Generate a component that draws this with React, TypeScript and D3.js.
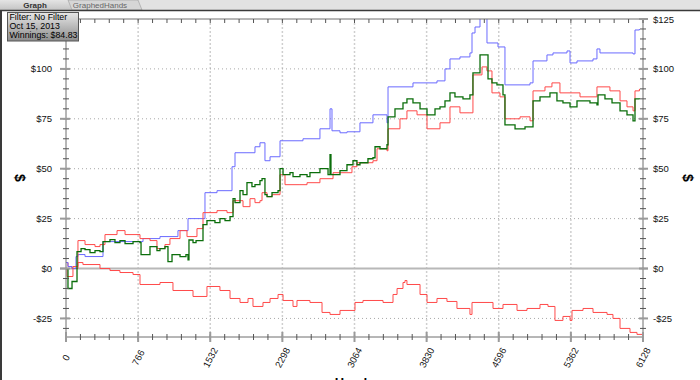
import React from "react";
import * as d3 from "d3";

// ---- data (hands, dollars) ----
const handsMax = 6128;
const xTickValues = [0, 766, 1532, 2298, 3064, 3830, 4596, 5362, 6128];
const yTickValues = [-25, 0, 25, 50, 75, 100, 125];
const yDomain: [number, number] = [-34.3, 125];

const tooltipLines = ["Filter: No Filter", "Oct 15, 2013", "Winnings: $84.83"];
const tabs = ["Graph", "GraphedHands"];

const blueSeries: [number, number][] = [
  [0, 3], [21, 1], [64, 0], [106, 6], [127, 7], [202, 6], [393, 13.5], [818, 15], [998, 16],
  [1189, 19], [1296, 25], [1476, 38], [1604, 39], [1763, 51], [1795, 58], [1922, 58],
  [2007, 61], [2060, 63], [2113, 54], [2167, 56], [2273, 64], [2517, 65], [2697, 70],
  [2804, 80], [2825, 69], [2910, 68], [2984, 68.5], [3122, 73], [3260, 77], [3409, 73],
  [3420, 91], [3685, 93], [3940, 94], [4025, 100], [4078, 105], [4184, 106], [4290, 108],
  [4312, 118], [4344, 121], [4397, 128], [4471, 113], [4588, 111], [4662, 92], [4928, 93],
  [4960, 104], [5108, 107], [5172, 108], [5321, 109], [5353, 103], [5427, 104], [5597, 105],
  [5639, 110], [5671, 108], [6022, 107.5], [6043, 119.5], [6090, 120],
];

const greenSeries: [number, number][] = [
  [0, 0], [21, -10], [64, -6.5], [117, 8.5], [160, 10], [202, 9.5], [255, 8], [308, 9],
  [361, 8.5], [393, 13.5], [467, 14.5], [520, 13], [573, 14], [627, 12.5], [712, 13.5],
  [786, 13], [797, 7], [892, 11], [966, 9], [998, 10], [1051, 11], [1083, 3.5], [1126, 7],
  [1211, 6], [1274, 7], [1296, 4.3], [1306, 14.3], [1349, 13], [1381, 14], [1455, 22],
  [1497, 24], [1582, 23], [1635, 25], [1689, 24], [1742, 26], [1774, 35], [1795, 33],
  [1848, 39], [1880, 37], [1922, 43], [1975, 41], [2007, 42], [2060, 44], [2082, 45],
  [2113, 37], [2135, 36], [2188, 38], [2252, 39], [2273, 50], [2305, 47], [2379, 48],
  [2411, 46], [2485, 47], [2560, 46], [2591, 48], [2697, 50], [2783, 47], [2804, 57],
  [2814, 47], [2910, 49], [2984, 52], [3048, 54], [3090, 52], [3122, 53], [3207, 55],
  [3260, 55.5], [3282, 61], [3335, 60], [3409, 62], [3420, 76], [3494, 80], [3579, 83],
  [3621, 85], [3685, 83], [3760, 80], [3834, 77], [3919, 80], [3972, 81], [4025, 84],
  [4078, 88], [4131, 86], [4216, 85], [4290, 87], [4322, 98], [4397, 107], [4482, 95],
  [4524, 93], [4577, 92], [4641, 87], [4662, 72], [4769, 70], [4875, 71], [4960, 84],
  [5034, 86], [5140, 88], [5214, 84], [5278, 83], [5353, 81], [5427, 84], [5565, 83],
  [5639, 82], [5650, 87], [5724, 85], [5799, 83], [5884, 79], [5958, 77], [6022, 74],
  [6043, 85], [6090, 84.83],
];

const redUpperSeries: [number, number][] = [
  [0, 0], [11, -4], [74, 1], [127, 14], [202, 12], [308, 11], [361, 12], [414, 17],
  [542, 19], [627, 17], [786, 15], [892, 14], [966, 10], [1051, 12], [1104, 15], [1211, 19],
  [1285, 16], [1391, 20], [1455, 28], [1604, 29], [1710, 28], [1774, 34], [1880, 31],
  [1954, 35], [2007, 33], [2060, 34], [2082, 38], [2135, 36], [2188, 37], [2273, 47],
  [2326, 42], [2485, 42], [2560, 43], [2697, 45], [2836, 48], [2984, 48], [3037, 51],
  [3090, 53], [3260, 54], [3303, 60], [3409, 59], [3420, 70], [3547, 75], [3621, 79],
  [3728, 77], [3834, 70], [3972, 73], [4078, 81], [4184, 78], [4290, 78], [4322, 97],
  [4418, 101], [4471, 99], [4524, 88], [4609, 86], [4662, 75], [4822, 76], [4928, 74],
  [4960, 89], [5087, 91], [5161, 93], [5246, 88], [5353, 88], [5459, 86], [5639, 91],
  [5777, 89], [5884, 84], [5958, 81], [6022, 79], [6043, 89], [6090, 90],
];

const redLowerSeries: [number, number][] = [
  [0, 3], [21, 1], [64, 0], [127, 3], [180, 2], [255, 2], [361, 0], [467, -1], [573, -2],
  [712, -3], [786, -8], [924, -8], [998, -7], [1136, -11], [1349, -14], [1497, -9],
  [1635, -11], [1742, -15], [1848, -17], [1933, -15], [1986, -19], [2092, -17], [2167, -15],
  [2252, -13], [2305, -16], [2411, -19], [2453, -16], [2591, -17], [2719, -22], [2804, -23],
  [2910, -21], [3069, -17], [3154, -16], [3367, -17], [3473, -13], [3516, -10], [3579, -7],
  [3600, -6], [3621, -8], [3760, -13], [3834, -17], [3940, -15], [4046, -16.5], [4152, -20],
  [4290, -23], [4312, -17], [4503, -17], [4535, -20], [4641, -18], [4790, -21], [4896, -20],
  [5034, -18], [5119, -19], [5193, -26], [5278, -24], [5353, -26], [5374, -21], [5491, -20],
  [5597, -22], [5746, -23], [5809, -25], [5884, -30], [5990, -32], [6064, -33], [6128, -34.3],
];

const seriesList = [
  { key: "redLower", data: redLowerSeries, color: "#ff4a4a", width: 1 },
  { key: "blue", data: blueSeries, color: "#6a6aff", width: 1 },
  { key: "redUpper", data: redUpperSeries, color: "#ff4a4a", width: 1 },
  { key: "green", data: greenSeries, color: "#0b6e0b", width: 1.3 },
];

const fmtDollar = (v: number) => (v < 0 ? `-$${Math.abs(v)}` : `$${v}`);

export default function App() {
  const W = 700, H = 380;
  const L = 66, R = 643, T = 19, B = 337;
  const x = d3.scaleLinear().domain([0, handsMax]).range([L, R]);
  const y = d3.scaleLinear().domain(yDomain).range([B, T]);
  const xMinor = d3.range(0, handsMax + 1, 766 / 5);
  const yMinor = d3.range(-30, 126, 5);
  const line = d3.line<[number, number]>().x(d => x(d[0])).y(d => y(d[1])).curve(d3.curveStepAfter);
  const font = "'Liberation Sans', Arial, sans-serif";
  // left $125 label is hidden behind the tooltip box in the reference
  const leftLabels = yTickValues.filter(v => v < 125);

  return (
    <svg width={W} height={H} style={{ position: "absolute", left: 0, top: 0, background: "#fff" }} fontFamily={font}>
      <defs>
        <clipPath id="plotClip"><rect x={L} y={T} width={R - L} height={B - T} /></clipPath>
        <linearGradient id="tipGrad" x1="0" y1="0" x2="0" y2="1">
          <stop offset="0" stopColor="#e6e6e6" />
          <stop offset="1" stopColor="#8c8c8c" />
        </linearGradient>
        <linearGradient id="barGrad" x1="0" y1="0" x2="0" y2="1">
          <stop offset="0" stopColor="#e4e4e4" />
          <stop offset="1" stopColor="#c4c4c4" />
        </linearGradient>
      </defs>
      <rect x={0} y={0} width={W} height={H} fill="#fff" />

      {/* grid */}
      {xTickValues.slice(1, -1).map(v => (
        <line key={"gx" + v} x1={x(v)} x2={x(v)} y1={T} y2={B} stroke="#cfcfcf" strokeWidth={1.5} strokeDasharray="2,2" />
      ))}
      {yTickValues.filter(v => v !== 0 && v !== 125).map(v => (
        <line key={"gy" + v} x1={L} x2={R} y1={y(v)} y2={y(v)} stroke="#a8a8a8" strokeWidth={1} strokeDasharray="1,3" />
      ))}
      <line x1={L - 6} x2={R + 5} y1={y(0)} y2={y(0)} stroke="#b8b8b8" strokeWidth={2} />

      {/* series */}
      <g clipPath="url(#plotClip)">
        {seriesList.map(s => (
          <path key={s.key} d={line(s.data) || ""} fill="none" stroke={s.color} strokeWidth={s.width} />
        ))}
      </g>

      {/* axes */}
      <g stroke="#6e6e6e" strokeWidth={1}>
        <line x1={L} x2={R} y1={B} y2={B} />
        <line x1={L} x2={R} y1={T} y2={T} />
        <line x1={L} x2={L} y1={T} y2={B} />
        <line x1={R} x2={R} y1={T} y2={B} />
      </g>
      {xMinor.map(v => (
        <g key={"xm" + v} stroke="#555" strokeWidth={1}>
          <line x1={x(v)} x2={x(v)} y1={B - 3} y2={B + 3} />
          <line x1={x(v)} x2={x(v)} y1={T} y2={T + 4} />
        </g>
      ))}
      {xTickValues.map(v => (
        <line key={"xM" + v} x1={x(v)} x2={x(v)} y1={B - 5} y2={B + 5} stroke="#9a9a9a" strokeWidth={2} />
      ))}
      {yMinor.map(v => (
        <g key={"ym" + v} stroke="#555" strokeWidth={1}>
          <line x1={L - 3} x2={L + 3} y1={y(v)} y2={y(v)} />
          <line x1={R - 3} x2={R + 3} y1={y(v)} y2={y(v)} />
        </g>
      ))}
      {yTickValues.map(v => (
        <g key={"yM" + v} stroke="#9a9a9a" strokeWidth={2}>
          <line x1={L - 6} x2={L + 4} y1={y(v)} y2={y(v)} />
          <line x1={R - 4} x2={R + 5} y1={y(v)} y2={y(v)} />
        </g>
      ))}

      {/* tick labels */}
      {leftLabels.map(v => (
        <text key={"yl" + v} x={52} y={y(v)} textAnchor="end" dominantBaseline="central" fontSize={9.5} fill="#111">{fmtDollar(v)}</text>
      ))}
      {yTickValues.map(v => (
        <text key={"yr" + v} x={653} y={y(v)} textAnchor="start" dominantBaseline="central" fontSize={9.5} fill="#111">{fmtDollar(v)}</text>
      ))}
      {xTickValues.map(v => (
        <text key={"xl" + v} transform={`translate(${x(v)},${357.5}) rotate(-62)`} textAnchor="middle"
          dominantBaseline="central" fontSize={9.5} fill="#111">{v}</text>
      ))}

      {/* axis titles */}
      <text transform="translate(20,178) rotate(90)" textAnchor="middle" dominantBaseline="central" fontSize={14} fontWeight="bold">$</text>
      <text transform="translate(688,178) rotate(90)" textAnchor="middle" dominantBaseline="central" fontSize={14} fontWeight="bold">$</text>
      <text x={(L + R) / 2} y={387} textAnchor="middle" fontSize={13} fontWeight="bold">Hands</text>

      {/* window chrome */}
      <rect x={0} y={0} width={W} height={10} fill="#e2e2e2" />
      <path d="M0,0 L68,0 L72,10 L0,10 Z" fill="url(#barGrad)" />
      <path d="M68,0 L138,0 L142,10 L72,10 Z" fill="#d6d6d6" stroke="#9a9a9a" strokeWidth={0.6} />
      <text x={35} y={8} textAnchor="middle" fontSize={8} fontWeight="bold" fill="#333">{tabs[0]}</text>
      <text x={100} y={8} textAnchor="middle" fontSize={8} fill="#666">{tabs[1]}</text>
      <line x1={0} x2={W} y1={10.5} y2={10.5} stroke="#3a3a3a" strokeWidth={1.5} />
      <line x1={1} x2={1} y1={10} y2={H} stroke="#3a3a3a" strokeWidth={2} />

      {/* tooltip */}
      <rect x={7.5} y={12.5} width={71} height={28.5} fill="url(#tipGrad)" stroke="#555" strokeWidth={1} />
      {tooltipLines.map((t, i) => (
        <text key={t} x={9.5} y={20 + i * 9} fontSize={8.8} fill="#000">{t}</text>
      ))}
    </svg>
  );
}
